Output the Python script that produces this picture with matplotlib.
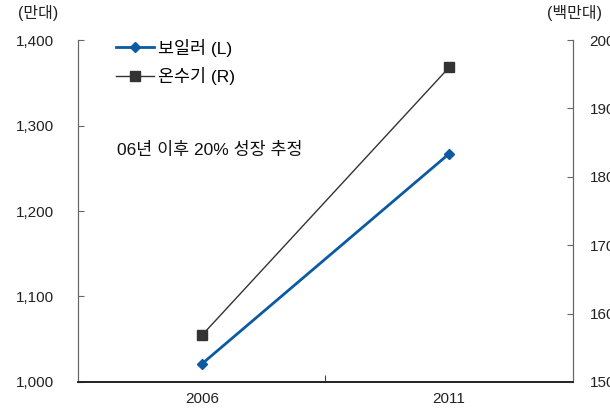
import numpy as np
import matplotlib.pyplot as plt

plt.rcParams['font.family'] = ['Liberation Sans', 'Noto Sans CJK KR']

years = ['2006', '2011']
boiler = [1021, 1267]        # 만대 (L)
heater = [156.8, 196.0]      # 백만대 (R)

blue = '#0b5aa2'
dark = '#333333'

fig = plt.figure(figsize=(6.1, 4.11), dpi=100)
ax = fig.add_axes([0.128, 0.0706, 0.811, 0.832])
ax2 = ax.twinx()

x = np.arange(len(years)) + 0.5
l1, = ax.plot(x, boiler, color=blue, lw=2, marker='D', ms=5.5, label='보일러 (L)')
l2, = ax2.plot(x, heater, color=dark, lw=1, marker='s', ms=6.5, label='온수기 (R)')

ax.set_xlim(0, 2)
ax.set_ylim(1000, 1400)
ax2.set_ylim(150, 200)
ax.set_yticks([1000, 1100, 1200, 1300, 1400])
ax.set_yticklabels(['1,000', '1,100', '1,200', '1,300', '1,400'])
ax2.set_yticks([150, 160, 170, 180, 190, 200])

ax.set_xticks([1], minor=False)
ax.set_xticklabels([''])
ax.set_xticks(x, minor=True)
ax.set_xticklabels(years, minor=True)
ax.tick_params(axis='x', which='major', direction='in', length=5, color='#444444')
ax.tick_params(axis='x', which='minor', length=0, pad=7, labelsize=11, labelcolor='#222222')
ax.tick_params(axis='y', direction='in', length=4, pad=17, labelsize=11,
               color='#666666', labelcolor='#222222')
ax2.tick_params(axis='y', direction='in', length=4, pad=12, labelsize=11,
                color='#666666', labelcolor='#222222')

for a in (ax, ax2):
    a.spines['top'].set_visible(False)
    a.spines['left'].set_color('#666666')
    a.spines['right'].set_color('#666666')
    a.spines['bottom'].set_color('#222222')
    a.spines['bottom'].set_linewidth(1.2)

fig.text(0.030, 0.955, '(만대)', fontsize=11.5, color='#222222')
fig.text(0.897, 0.955, '(백만대)', fontsize=11.5, color='#222222')

ax.legend(handles=[l1, l2], loc='upper left', bbox_to_anchor=(0.045, 1.05),
          frameon=False, fontsize=12.5, handlelength=2.2, handletextpad=0.2,
          labelspacing=0.6)

ax.text(0.078, 0.665, '06년 이후 20% 성장 추정', transform=ax.transAxes,
        fontsize=12.5, color='#111111')

fig.savefig('out.png', dpi=100)
